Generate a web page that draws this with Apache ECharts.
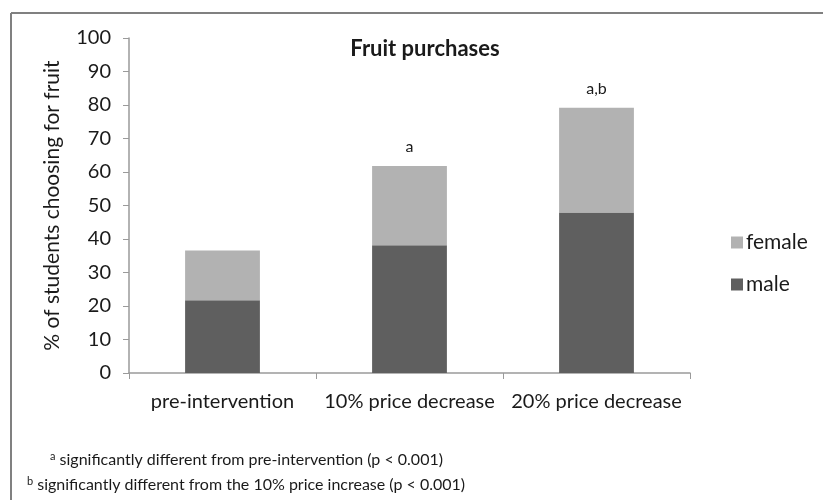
<!DOCTYPE html>
<html>
<head>
<meta charset="utf-8">
<script src="https://cdn.jsdelivr.net/npm/echarts@6/dist/echarts.min.js"></script>
<style>
  html, body { margin: 0; padding: 0; background: #fff; }
  #chart { width: 823px; height: 500px; }
</style>
</head>
<body>
<div id="chart"></div>
<script>
// values
const categories = ["pre-intervention", "10% price decrease", "20% price decrease"];
const maleValues = [21.7, 38.1, 47.9];
const femaleValues = [14.9, 23.7, 31.3];
const marks = ["", "a", "a,b"];

const font = "Lato";
let chart = echarts.init(document.getElementById("chart"));
chart.setOption({
  animation: false,
  textStyle: { fontFamily: font },
  title: {
    text: "Fruit purchases",
    left: 420,
    textAlign: "center",
    top: 33,
    textStyle: { fontFamily: font, fontSize: 22, fontWeight: "bold", color: "#1a1a1a" }
  },
  legend: {
    orient: "vertical",
    left: 726,
    top: 227,
    itemWidth: 12,
    itemHeight: 12,
    itemGap: 21,
    icon: "rect",
    data: ["female", "male"],
    textStyle: { fontFamily: font, fontSize: 21, color: "#1a1a1a", padding: [0, 0, 0, -2] }
  },
  grid: { left: 129, right: 133, top: 38, bottom: 127 },
  xAxis: {
    type: "category",
    data: categories,
    axisLine: { lineStyle: { color: "#9a9a9a", width: 1.5 } },
    axisTick: { show: true, length: 6, lineStyle: { color: "#9a9a9a" } },
    axisLabel: { fontFamily: font, fontSize: 20, color: "#1a1a1a", margin: 19, interval: 0 }
  },
  yAxis: {
    type: "value",
    min: 0,
    max: 100,
    interval: 10,
    name: "% of students choosing for fruit",
    nameLocation: "middle",
    nameGap: 66,
    nameTextStyle: { fontFamily: font, fontSize: 21, color: "#1a1a1a" },
    axisLine: { show: true, lineStyle: { color: "#9a9a9a", width: 1.5 } },
    axisTick: { show: true, length: 6, lineStyle: { color: "#9a9a9a" } },
    splitLine: { show: false },
    axisLabel: { fontFamily: font, fontSize: 20, color: "#1a1a1a", margin: 18 }
  },
  series: [
    {
      name: "male",
      type: "bar",
      stack: "total",
      barWidth: "40%",
      itemStyle: { color: "#5f5f5f" },
      data: maleValues
    },
    {
      name: "female",
      type: "bar",
      stack: "total",
      itemStyle: { color: "#b2b2b2" },
      label: {
        show: true,
        position: "top",
        distance: 11,
        fontFamily: font,
        fontSize: 16,
        color: "#1a1a1a",
        formatter: p => marks[p.dataIndex]
      },
      data: femaleValues
    }
  ],
  graphic: [
    { type: "line", shape: { x1: 11, y1: 13, x2: 823, y2: 13 }, style: { stroke: "#808080", lineWidth: 2 } },
    { type: "line", shape: { x1: 11, y1: 13, x2: 11, y2: 500 }, style: { stroke: "#808080", lineWidth: 2 } },
    {
      type: "text",
      left: 50,
      top: 451,
      style: {
        text: "{sup|a} significantly different from pre-intervention (p < 0.001)",
        fontFamily: font,
        fontSize: 16,
        fill: "#1a1a1a",
        rich: { sup: { fontFamily: font, fontSize: 11, verticalAlign: "top", padding: [0, 0, 7, 0] } }
      }
    },
    {
      type: "text",
      left: 27,
      top: 476,
      style: {
        text: "{sup|b} significantly different from the 10% price increase (p < 0.001)",
        fontFamily: font,
        fontSize: 16,
        fill: "#1a1a1a",
        rich: { sup: { fontFamily: font, fontSize: 11, verticalAlign: "top", padding: [0, 0, 7, 0] } }
      }
    }
  ]
});
</script>
</body>
</html>
